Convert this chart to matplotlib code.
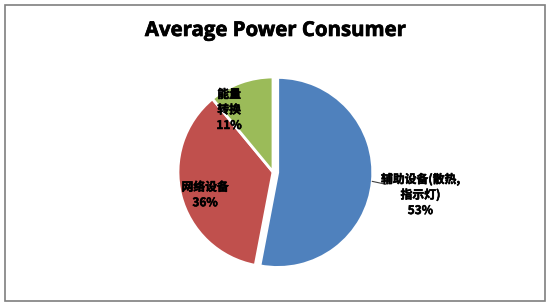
import numpy as np
import matplotlib.pyplot as plt
import matplotlib.patheffects as pe
from matplotlib.patches import Rectangle

plt.rcParams['font.family'] = ['Noto Sans CJK SC', 'DejaVu Sans']

# data
labels = ['辅助设备(散热,\n指示灯)', '网络设备', '能量\n转换']
values = [53, 36, 11]
colors = ['#4f81bd', '#c0504d', '#9bbb59']
explode = [0.05, 0, 0]

W, H = 550, 308
fig = plt.figure(figsize=(W / 100, H / 100), dpi=100)

# border of the chart area
fig.patches.append(Rectangle((5 / W, 1 - 301 / H), 540 / W, 296 / H,
                             transform=fig.transFigure, fill=False,
                             edgecolor='#7f7f7f', linewidth=1.2))

fig.text(275 / W, 1 - 31 / H, 'Average Power Consumer', ha='center', va='center',
         fontsize=14.7, fontweight='bold', family=['Open Sans', 'DejaVu Sans'],
         path_effects=[pe.withStroke(linewidth=0.5, foreground='black')])

# pie axes: center (273,172) px, radius 95 px
cx, cy, r = 273, 172, 95
ax = fig.add_axes([(cx - r) / W, 1 - (cy + r) / H, 2 * r / W, 2 * r / H])
wedges, _ = ax.pie(values, colors=colors, explode=explode, startangle=90,
                   counterclock=False, radius=1,
                   wedgeprops=dict(edgecolor='white', linewidth=2))
ax.set_xlim(-1, 1)
ax.set_ylim(-1, 1)
ax.set_aspect('auto')
ax.axis('off')
for w in wedges:
    w.set_clip_on(False)

total = sum(values)
# label positions: (distance, angle offset) per slice
label_pos = [(1.57, -3.5), (0.755, 4.3), (0.80, 15.5)]
for w, lab, v, (d, off) in zip(wedges, labels, values, label_pos):
    mid = np.deg2rad((w.theta1 + w.theta2) / 2 + off)
    x, y = d * np.cos(mid), d * np.sin(mid)
    ax.text(x, y, f'{lab}\n{round(v / total * 100)}%', ha='center', va='center',
            fontsize=8.5, fontweight='bold', linespacing=1.25, clip_on=False,
            path_effects=[pe.withStroke(linewidth=0.4, foreground='black')])

# leader line for the outside label
m = np.deg2rad((wedges[0].theta1 + wedges[0].theta2) / 2)
ex, ey = 0.05 * np.cos(m), 0.05 * np.sin(m)
ax.plot([ex + np.cos(m), ex + np.cos(m) + 0.14], [ey + np.sin(m), ey + np.sin(m) - 0.03],
        color='#404040', linewidth=0.8, clip_on=False)

fig.savefig('out.png', dpi=100)
